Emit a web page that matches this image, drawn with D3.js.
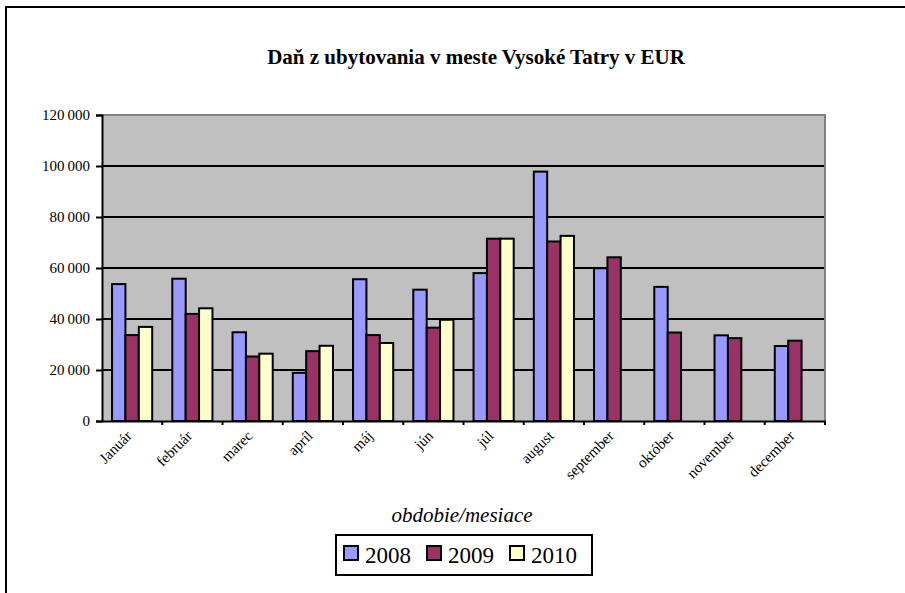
<!DOCTYPE html>
<html>
<head>
<meta charset="utf-8">
<script src="https://cdn.jsdelivr.net/npm/d3@7"></script>
<style>
  body { margin: 0; background: #fff; }
  svg { display: block; }
  svg text { font-family: "Liberation Serif", "Times New Roman", serif; }
</style>
</head>
<body>
<svg width="905" height="593"></svg>
<script>
var months = ["Január", "február", "marec", "apríl", "máj", "jún", "júl", "august", "september", "október", "november", "december"];
var years = ["2008", "2009", "2010"];
var values2008 = [53700, 55800, 34800, 18900, 55600, 51500, 58000, 97800, 59900, 52600, 33600, 29400];
var values2009 = [33700, 42000, 25300, 27400, 33700, 36600, 71500, 70400, 64200, 34700, 32500, 31500];
var values2010 = [36900, 44200, 26400, 29500, 30600, 39700, 71500, 72600, null, null, null, null];
var yTicks = [0, 20000, 40000, 60000, 80000, 100000, 120000];
var colors = ["#9999ff", "#993366", "#ffffcc"];

var series = [values2008, values2009, values2010];
var data = months.map(function(m, i) {
  return { month: m, vals: years.map(function(y, j) { return { year: y, value: series[j][i] }; }) };
});

var svg = d3.select("svg");

// plot area box (top is reserved on window, so plotTop)
var plotLeft = 102, plotRight = 825, plotTop = 115, plotBottom = 421;

// outer frame
svg.append("rect")
  .attr("x", 6).attr("y", 7)
  .attr("width", 1000).attr("height", 1000)
  .attr("fill", "none")
  .attr("stroke", "#000")
  .attr("stroke-width", 2);

svg.append("text")
  .attr("x", 476).attr("y", 64)
  .attr("text-anchor", "middle")
  .attr("font-weight", "bold")
  .attr("font-size", "21px")
  .text("Daň z ubytovania v meste Vysoké Tatry v EUR");

var x = d3.scaleBand().domain(months).range([plotLeft, plotRight]).padding(0);
var x1 = d3.scaleBand().domain(years).range([0, x.bandwidth()]).paddingInner(0).paddingOuter(0.75);
var y = d3.scaleLinear().domain([0, 120000]).range([plotBottom, plotTop]);

var loc = d3.formatLocale({ decimal: ",", thousands: "\u2009", grouping: [3], currency: ["", ""] });
var fmt = loc.format(",d");

// plot background
svg.append("rect")
  .attr("x", plotLeft).attr("y", plotTop)
  .attr("width", plotRight - plotLeft).attr("height", plotBottom - plotTop)
  .attr("fill", "#c0c0c0");

// gridlines
svg.append("g")
  .selectAll("line")
  .data(yTicks.filter(function(d) { return d > 0 && d < 120000; }))
  .enter().append("line")
  .attr("x1", plotLeft).attr("x2", plotRight)
  .attr("y1", function(d) { return y(d); })
  .attr("y2", function(d) { return y(d); })
  .attr("stroke", "#000")
  .attr("stroke-width", 2);

// plot border top/right
svg.append("path")
  .attr("d", "M" + plotLeft + "," + plotTop + "H" + plotRight + "V" + plotBottom)
  .attr("fill", "none")
  .attr("stroke", "#808080")
  .attr("stroke-width", 2);

// bars
var groups = svg.append("g")
  .selectAll("g")
  .data(data)
  .enter().append("g")
  .attr("transform", function(d) { return "translate(" + x(d.month) + ",0)"; });

groups.selectAll("rect")
  .data(function(d) { return d.vals.filter(function(v) { return v.value != null; }); })
  .enter().append("rect")
  .attr("x", function(d) { return x1(d.year); })
  .attr("y", function(d) { return y(d.value); })
  .attr("width", x1.bandwidth())
  .attr("height", function(d) { return plotBottom - y(d.value); })
  .attr("fill", function(d) { return colors[years.indexOf(d.year)]; })
  .attr("stroke", "#000")
  .attr("stroke-width", 2);

// y axis
var yAxis = svg.append("g")
  .attr("transform", "translate(" + plotLeft + ",0)")
  .call(d3.axisLeft(y).tickValues(yTicks).tickFormat(fmt).tickSize(6).tickPadding(6));
yAxis.select(".domain").attr("stroke", "#000").attr("stroke-width", 2);
yAxis.selectAll(".tick line").attr("stroke-width", 2);
yAxis.selectAll("text")
  .attr("font-size", "15px")
  .attr("font-family", "Liberation Serif, serif")
  .attr("fill", "#000");

// x axis
var xAxis = svg.append("g")
  .attr("transform", "translate(0," + plotBottom + ")")
  .call(d3.axisBottom(x).tickSize(0).tickFormat(""));
xAxis.select(".domain").attr("stroke", "#000").attr("stroke-width", 2);
xAxis.selectAll(".tick").remove();

svg.append("g")
  .selectAll("line")
  .data(months)
  .enter().append("line")
  .attr("x1", function(d) { return x(d) + x.step(); })
  .attr("x2", function(d) { return x(d) + x.step(); })
  .attr("y1", plotBottom)
  .attr("y2", plotBottom + 4)
  .attr("stroke", "#000")
  .attr("stroke-width", 2);

svg.append("g")
  .selectAll("text")
  .data(months)
  .enter().append("text")
  .attr("transform", function(d) {
    return "translate(" + (x(d) + x.bandwidth() / 2 - 3) + "," + (plotBottom + 12) + ") rotate(-45)";
  })
  .attr("text-anchor", "end")
  .attr("dy", "0.35em")
  .attr("font-size", "15px")
  .text(function(d) { return d; });

// axis title
svg.append("text")
  .attr("x", 462).attr("y", 522)
  .attr("text-anchor", "middle")
  .attr("font-style", "italic")
  .attr("font-size", "21px")
  .text("obdobie/mesiace");

// legend
var lg = svg.append("g").attr("transform", "translate(336,535)");
lg.append("rect")
  .attr("width", 256).attr("height", 40)
  .attr("fill", "#fff")
  .attr("stroke", "#000")
  .attr("stroke-width", 2);

var items = lg.selectAll("g")
  .data(years)
  .enter().append("g")
  .attr("transform", function(d, i) { return "translate(" + [8, 91, 174][i] + ",0)"; });

items.append("rect")
  .attr("y", 11)
  .attr("width", 14).attr("height", 14)
  .attr("fill", function(d, i) { return colors[i]; })
  .attr("stroke", "#000")
  .attr("stroke-width", 2);

items.append("text")
  .attr("x", 21).attr("y", 28)
  .attr("font-size", "23px")
  .text(function(d) { return d; });
</script>
</body>
</html>
